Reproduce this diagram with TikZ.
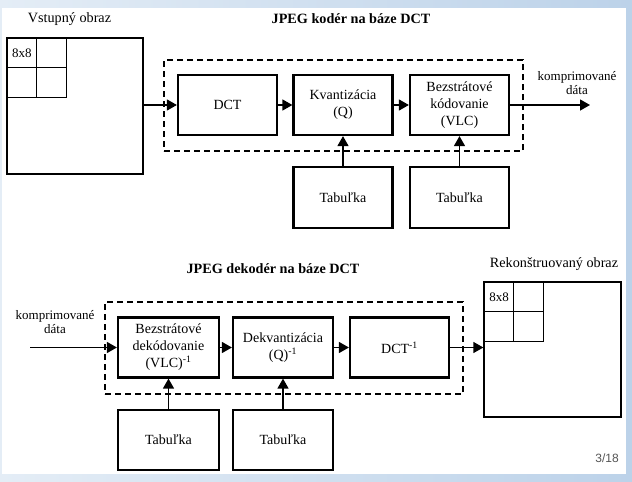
\documentclass[tikz,border=0pt]{standalone}
\usepackage{fontspec}
\setmainfont{Liberation Serif}
\newfontfamily\pagefont{Liberation Sans}
\usetikzlibrary{arrows.meta}
\definecolor{bgleft}{HTML}{E4EDF6}
\definecolor{bgright}{HTML}{BCD2E9}
\definecolor{pagegray}{HTML}{555555}
\begin{document}
\begin{tikzpicture}[x=1pt,y=-1pt,
  blk/.style={draw,line width=2.2pt,minimum width=99pt,minimum height=60pt,inner sep=0pt,align=center,font=\fontsize{14}{17}\selectfont},
  imgsq/.style={draw,line width=1.3pt,inner sep=0pt,minimum width=136pt,minimum height=136pt},
  cell/.style={line width=1.3pt},
  frame/.style={draw,line width=1.2pt,dash pattern=on 6pt off 4pt},
  conn/.style={line width=1.3pt,-{Triangle[length=10pt,width=11pt]}},
  lbl/.style={font=\fontsize{14.2}{17}\selectfont,inner sep=0pt},
  small/.style={font=\fontsize{13}{14.5}\selectfont,align=center,inner sep=0pt},
  ttl/.style={font=\fontsize{14.2}{17}\selectfont\bfseries,inner sep=0pt}
]
\useasboundingbox (0,0) rectangle (632,482);
\shade[left color=bgleft,right color=bgright] (0,0) rectangle (632,482);
\fill[white] (2,8) rectangle (626,474);

% ---------- encoder ----------
\node[lbl] (intitle) at (69.5,19) {Vstupný obraz};
\node[ttl] (enctitle) at (351,19) {JPEG kodér na báze DCT};

\node[imgsq] (inimg) at (75,106) {};
\draw[cell] (inimg.north west) ++(30,0) -- ++(0,60);
\draw[cell] (inimg.north west) ++(60,0) -- ++(0,60) -- ++(-60,0);
\draw[cell] (inimg.north west) ++(0,30) -- ++(60,0);
\node[lbl,font=\fontsize{13}{15}\selectfont] (incell) at (22,53) {8x8};

\node[frame,minimum width=359pt,minimum height=91pt] (encframe) at (343.5,105.5) {};

\node[blk] (dct) at (227.5,105) {DCT};
\node[blk] (kvant) at (343,105) {Kvantizácia\\(Q)};
\node[blk] (vlc) at (459.5,105) {Bezstrátové\\kódovanie\\(VLC)};
\node[blk,minimum height=61pt] (tab1) at (343,197.5) {Tabuľka};
\node[blk,minimum height=61pt] (tab2) at (459.5,197.5) {Tabuľka};
\coordinate (encout) at (590,105);
\node[small] (enclbl) at (577,83) {komprimované\\dáta};

\draw[conn] (inimg.east |- dct.west) -- (dct.west);
\draw[conn] (dct) -- (kvant);
\draw[conn] (kvant) -- (vlc);
\draw[conn] (vlc.east) -- (encout);
\draw[conn] (tab1) -- (kvant);
\draw[conn] (tab2) -- (vlc);

% ---------- decoder ----------
\node[ttl] (dectitle) at (273,269) {JPEG dekodér na báze DCT};
\node[lbl] (outtitle) at (554,264) {Rekonštruovaný obraz};

\node[frame,minimum width=358pt,minimum height=92pt] (decframe) at (284,348) {};

\node[blk,minimum width=101pt] (ivlc) at (168.5,347.5) {Bezstrátové\\dekódovanie\\(VLC)\textsuperscript{-1}};
\node[blk,minimum width=100pt] (ikvant) at (283,347.5) {Dekvantizácia\\(Q)\textsuperscript{-1}};
\node[blk] (idct) at (399.5,347.5) {DCT\textsuperscript{-1}};
\node[blk,minimum width=101pt] (tab3) at (168.5,440) {Tabuľka};
\node[blk,minimum width=100pt] (tab4) at (283,440) {Tabuľka};

\node[imgsq,minimum width=137pt,minimum height=135pt] (outimg) at (552.5,349.5) {};
\draw[cell] (outimg.north west) ++(30,0) -- ++(0,60);
\draw[cell] (outimg.north west) ++(60,0) -- ++(0,60) -- ++(-60,0);
\draw[cell] (outimg.north west) ++(0,30) -- ++(60,0);
\node[lbl,font=\fontsize{13}{15}\selectfont] (outcell) at (499,297) {8x8};

\coordinate (decin) at (30,347.5);
\node[small] (declbl) at (55,322) {komprimované\\dáta};

\draw[conn] (decin) -- (ivlc.west);
\draw[conn] (ivlc) -- (ikvant);
\draw[conn] (ikvant) -- (idct);
\draw[conn] (idct.east) -- (idct.east -| outimg.west);
\draw[conn] (tab3) -- (ivlc);
\draw[conn] (tab4) -- (ikvant);

\node[font=\pagefont\fontsize{12}{14}\selectfont,text=pagegray,inner sep=0pt] (pagenum) at (607,458) {3/18};
\end{tikzpicture}
\end{document}
